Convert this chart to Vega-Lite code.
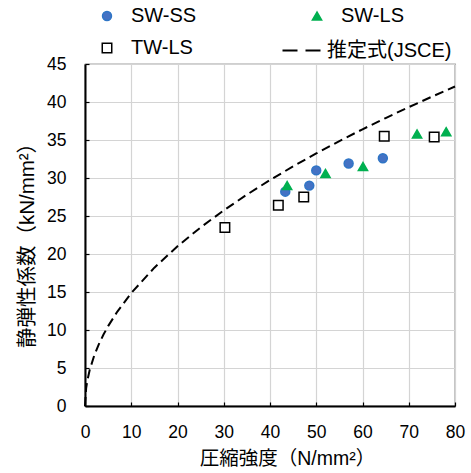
{
  "$schema": "https://vega.github.io/schema/vega-lite/v6.json",
  "autosize": "none",
  "width": 370,
  "height": 342,
  "padding": {"left": 85, "top": 64, "right": 16, "bottom": 67},
  "background": "white",
  "config": {
    "font": "Liberation Sans, Arial, Noto Sans CJK JP",
    "view": {"stroke": "#404040", "strokeWidth": 1.2},
    "axis": {
      "labelFont": "Liberation Sans, Noto Sans CJK JP",
      "titleFont": "Liberation Sans, Noto Sans CJK JP",
      "labelFontSize": 17.5,
      "titleFontSize": 19.5,
      "labelColor": "#000000",
      "titleColor": "#000000",
      "titleFontWeight": "normal",
      "labelFlush": false,
      "domainColor": "#000000",
      "domainWidth": 2,
      "gridColor": "#d4d4d4",
      "gridWidth": 1.2,
      "tickColor": "#000000",
      "tickSize": -4,
      "tickWidth": 1.2
    },
    "legend": {
      "labelFont": "Liberation Sans, Noto Sans CJK JP",
      "labelFontSize": 20,
      "labelColor": "#000000"
    }
  },
  "datasets": {
    "pts": [
      {"series": "SW-SS", "fc": 43.3, "E": 28.2},
      {"series": "SW-SS", "fc": 48.5, "E": 29.0},
      {"series": "SW-SS", "fc": 50.0, "E": 31.0},
      {"series": "SW-SS", "fc": 57.0, "E": 31.9},
      {"series": "SW-SS", "fc": 64.4, "E": 32.6},
      {"series": "SW-LS", "fc": 43.7, "E": 29.0},
      {"series": "SW-LS", "fc": 52.0, "E": 30.6},
      {"series": "SW-LS", "fc": 60.1, "E": 31.5},
      {"series": "SW-LS", "fc": 71.8, "E": 35.8},
      {"series": "SW-LS", "fc": 78.1, "E": 36.1},
      {"series": "TW-LS", "fc": 30.25, "E": 23.5},
      {"series": "TW-LS", "fc": 41.8, "E": 26.4},
      {"series": "TW-LS", "fc": 47.3, "E": 27.5},
      {"series": "TW-LS", "fc": 64.7, "E": 35.5},
      {"series": "TW-LS", "fc": 75.5, "E": 35.4}
    ],
    "jsce": [
      {"fc": 0, "E": 0},
      {"fc": 0.25, "E": 2.35},
      {"fc": 0.5, "E": 3.32},
      {"fc": 1, "E": 4.7},
      {"fc": 2, "E": 6.65},
      {"fc": 3, "E": 8.14},
      {"fc": 4, "E": 9.4},
      {"fc": 5, "E": 10.51},
      {"fc": 7, "E": 12.43},
      {"fc": 10, "E": 14.86},
      {"fc": 15, "E": 18.2},
      {"fc": 20, "E": 21.02},
      {"fc": 25, "E": 23.5},
      {"fc": 30, "E": 25.74},
      {"fc": 35, "E": 27.81},
      {"fc": 40, "E": 29.73},
      {"fc": 45, "E": 31.53},
      {"fc": 50, "E": 33.23},
      {"fc": 55, "E": 34.86},
      {"fc": 60, "E": 36.41},
      {"fc": 65, "E": 37.89},
      {"fc": 70, "E": 39.32},
      {"fc": 75, "E": 40.7},
      {"fc": 80, "E": 42.04}
    ]
  },
  "encoding": {
    "x": {
      "field": "fc", "type": "quantitative",
      "scale": {"domain": [0, 80], "nice": false},
      "axis": {"values": [0,10,20,30,40,50,60,70,80], "title": "圧縮強度（N/mm²）", "labelPadding": 21, "titlePadding": 9, "titleX": 202}
    },
    "y": {
      "field": "E", "type": "quantitative",
      "scale": {"domain": [0, 45], "nice": false},
      "axis": {"values": [0,5,10,15,20,25,30,35,40,45], "title": "静弾性係数（kN/mm²）", "titleFontSize": 20.5, "titleY": 176, "labelPadding": 23, "titlePadding": 9}
    }
  },
  "layer": [
    {
      "data": {"name": "jsce"},
      "mark": {"type": "line", "color": "#000000", "strokeWidth": 2, "strokeDash": [9, 5]},
      "encoding": {}
    },
    {
      "data": {"name": "jsce"},
      "transform": [{"filter": "datum.fc == 80"}],
      "mark": {"type": "line", "color": "#000000", "strokeWidth": 2.2},
      "encoding": {
        "strokeDash": {
          "datum": "推定式(JSCE)", "type": "nominal",
          "scale": {"domain": ["推定式(JSCE)"], "range": [[15, 8]]},
          "legend": {
            "title": null, "orient": "none", "legendX": 196, "legendY": -35,
            "symbolType": "stroke", "symbolSize": 1600, "symbolStrokeWidth": 2.2,
            "symbolStrokeColor": "#000000", "labelOffset": 3
          }
        }
      }
    },
    {
      "data": {"name": "pts"},
      "mark": {"type": "point", "filled": false, "opacity": 1, "strokeWidth": 1.5},
      "encoding": {
        "shape": {
          "field": "series", "type": "nominal",
          "scale": {
            "domain": ["SW-SS", "SW-LS", "TW-LS"],
            "range": ["circle", "triangle-up", "square"]
          },
          "legend": {
            "title": null, "orient": "none", "legendX": 12, "legendY": -58,
            "direction": "horizontal",
            "columns": 2, "columnPadding": 110, "rowPadding": 12,
            "labelOffset": 14, "symbolStrokeWidth": 1.5
          }
        },
        "fill": {
          "field": "series", "type": "nominal",
          "scale": {
            "domain": ["SW-SS", "SW-LS", "TW-LS"],
            "range": ["#4472c4", "#00b050", "#ffffff"]
          }
        },
        "stroke": {
          "field": "series", "type": "nominal",
          "scale": {
            "domain": ["SW-SS", "SW-LS", "TW-LS"],
            "range": ["#2e75c6", "#00b050", "#000000"]
          }
        },
        "size": {
          "field": "series", "type": "nominal",
          "scale": {
            "domain": ["SW-SS", "SW-LS", "TW-LS"],
            "range": [80, 90, 110]
          }
        }
      }
    }
  ]
}
